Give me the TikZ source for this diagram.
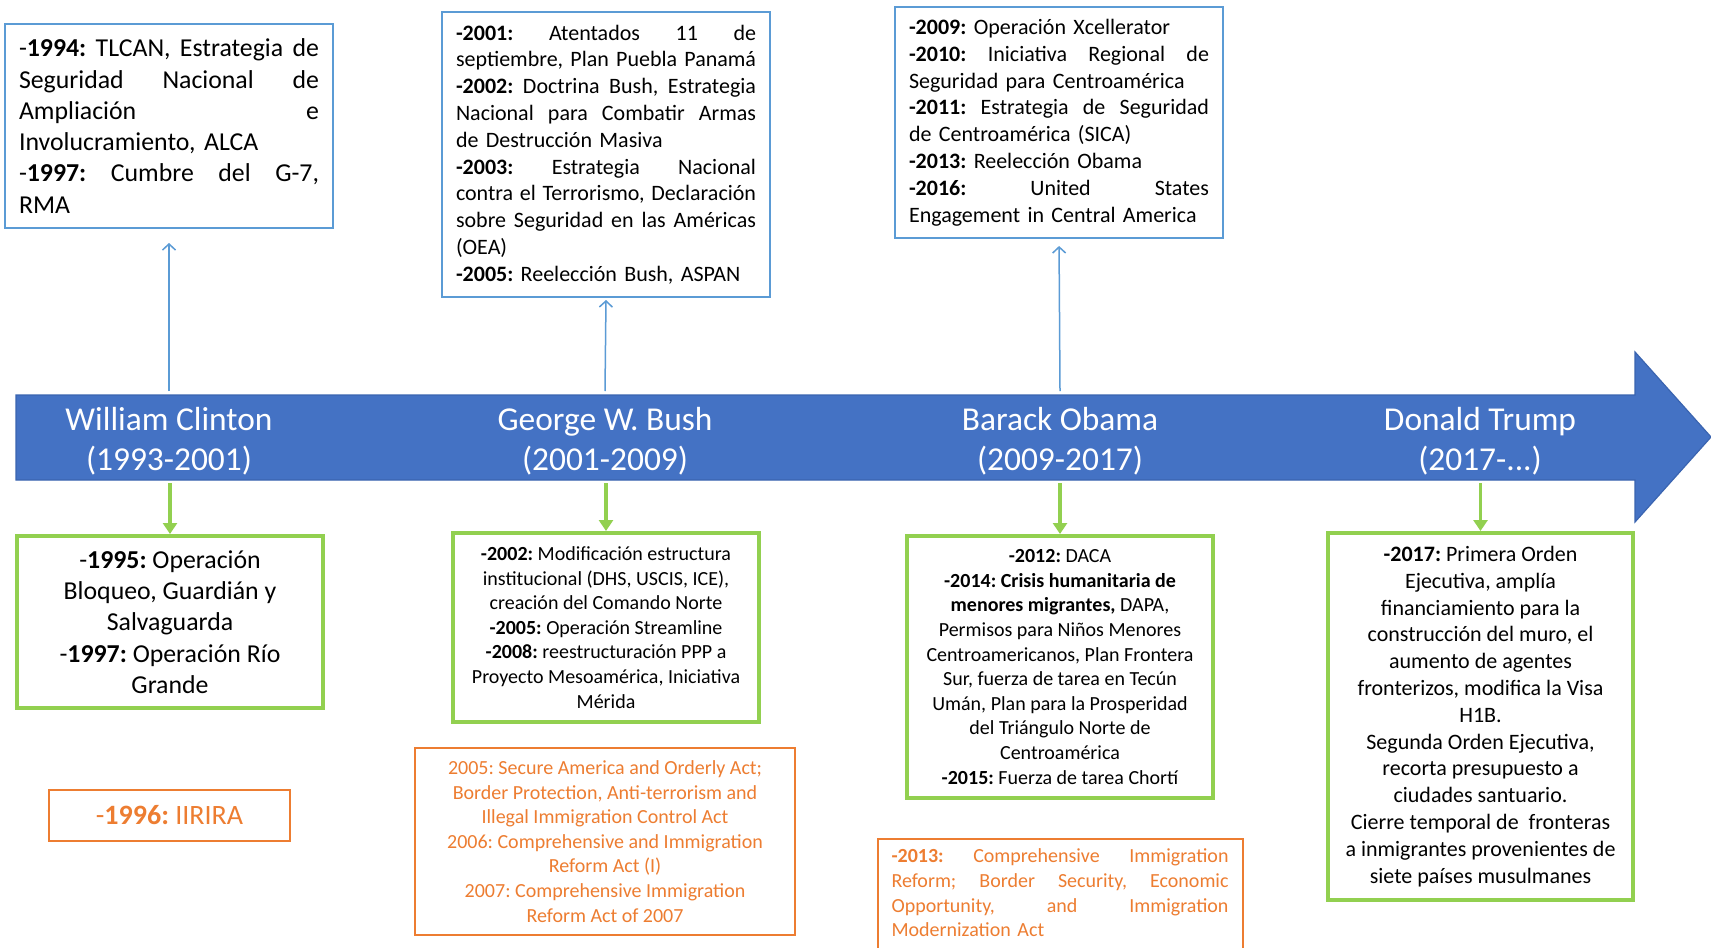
\documentclass[tikz,border=0pt]{standalone}
\usepackage{fontspec}
\setmainfont{Carlito}
\usetikzlibrary{arrows.meta}
\definecolor{bandblue}{HTML}{4472C4}
\definecolor{bandedge}{HTML}{3A64B0}
\definecolor{lblue}{HTML}{5B9BD5}
\definecolor{lgreen}{HTML}{92D050}
\definecolor{orng}{HTML}{ED7D31}
\newcommand{\jl}[2]{\makebox[#1][s]{\spaceskip=\fontdimen2\font plus 1fil\relax #2}}
\newcommand{\bigfs}{\fontsize{12.9pt}{15.65pt}\selectfont}
\newcommand{\medfs}{\fontsize{11pt}{13.4pt}\selectfont}
\newcommand{\smfs}{\fontsize{10pt}{12.3pt}\selectfont}
\hbadness=10000 \hfuzz=5pt
\frenchspacing
\begin{document}
\begin{tikzpicture}[x=0.5pt,y=-0.5pt,
  bluebox/.style={draw=lblue,line width=1pt,fill=white,inner xsep=7pt,inner ysep=3pt,align=left,text width=150pt},
  greenbox/.style={draw=lgreen,line width=2pt,fill=white,align=center,inner sep=2pt},
  orangebox/.style={draw=orng,line width=1pt,fill=white,text=orng,align=center,inner sep=2pt},
  bandlabel/.style={text=white,align=center,font=\fontsize{16.7pt}{20.2pt}\selectfont},
  bluecon/.style={draw=lblue,line width=0.75pt,-{Straight Barb[length=3pt,width=6.5pt]}},
  greencon/.style={draw=lgreen,line width=1.6pt,-{Triangle[length=5.5pt,width=7pt]}}]
\useasboundingbox (0,0) rectangle (1711,947);
\fill[white] (0,0) rectangle (1711,947);

% timeline band
\draw[fill=bandblue,draw=bandedge,line width=0.6pt]
  (16,395) -- (1635,395) -- (1635,352) -- (1711,437) -- (1635,522) -- (1635,480) -- (16,480) -- cycle;

\node[bandlabel] (clinton) at (169,441) {William Clinton\\(1993-2001)};
\node[bandlabel] (bush) at (605,441) {George W. Bush\\(2001-2009)};
\node[bandlabel] (obama) at (1060,441) {Barack Obama\\(2009-2017)};
\node[bandlabel] (trump) at (1480,441) {Donald Trump\\(2017-...)};

% upper blue boxes
\node[bluebox,minimum height=102pt,font=\bigfs] (box1) at (169,126) {%
\jl{150pt}{-\textbf{1994:} TLCAN, Estrategia de}\\
\jl{150pt}{Seguridad Nacional de}\\
\jl{150pt}{Ampliación e}\\
Involucramiento, ALCA\\
\jl{150pt}{-\textbf{1997:} Cumbre del G-7,}\\
RMA};

\node[bluebox,minimum height=142.5pt,font=\medfs] (box2) at (606,154.5) {%
\jl{150pt}{\textbf{-2001:} Atentados 11 de}\\
\jl{150pt}{septiembre, Plan Puebla Panamá}\\
\jl{150pt}{\textbf{-2002:} Doctrina Bush, Estrategia}\\
\jl{150pt}{Nacional para Combatir Armas}\\
de Destrucción Masiva\\
\jl{150pt}{\textbf{-2003:} Estrategia Nacional}\\
\jl{150pt}{contra el Terrorismo, Declaración}\\
\jl{150pt}{sobre Seguridad en las Américas}\\
(OEA)\\
\textbf{-2005:} Reelección Bush, ASPAN};

\node[bluebox,minimum height=115.5pt,font=\medfs] (box3) at (1059,122.5) {%
\textbf{-2009:} Operación Xcellerator\\
\jl{150pt}{\textbf{-2010:} Iniciativa Regional de}\\
Seguridad para Centroamérica\\
\jl{150pt}{\textbf{-2011:} Estrategia de Seguridad}\\
de Centroamérica (SICA)\\
\textbf{-2013:} Reelección Obama\\
\jl{150pt}{\textbf{-2016:} United States}\\
Engagement in Central America};

% lower green boxes
\node[greenbox,minimum width=153pt,minimum height=86pt,font=\bigfs] (g1) at (170,622) {%
-\textbf{1995:} Operación\\
Bloqueo, Guardián y\\
Salvaguarda\\
-\textbf{1997:} Operación Río\\
Grande};

\node[greenbox,minimum width=153pt,minimum height=94.5pt,font=\smfs] (g2) at (606,627.5) {%
\textbf{-2002:} Modificación estructura\\
institucional (DHS, USCIS, ICE),\\
creación del Comando Norte\\
\textbf{-2005:} Operación Streamline\\
\textbf{-2008:} reestructuración PPP a\\
Proyecto Mesoamérica, Iniciativa\\
Mérida};

\node[greenbox,minimum width=153pt,minimum height=131pt,font=\smfs] (g3) at (1060,667) {%
\textbf{-2012:} DACA\\
\textbf{-2014: Crisis humanitaria de}\\
\textbf{menores migrantes,} DAPA,\\
Permisos para Niños Menores\\
Centroamericanos, Plan Frontera\\
Sur, fuerza de tarea en Tecún\\
Umán, Plan para la Prosperidad\\
del Triángulo Norte de\\
Centroamérica\\
\textbf{-2015:} Fuerza de tarea Chortí};

\node[greenbox,minimum width=152.5pt,minimum height=183.5pt,font=\medfs] (g4) at (1480.5,716.5) {%
\textbf{-2017:} Primera Orden\\
Ejecutiva, amplía\\
financiamiento para la\\
construcción del muro, el\\
aumento de agentes\\
fronterizos, modifica la Visa\\
H1B.\\
Segunda Orden Ejecutiva,\\
recorta presupuesto a\\
ciudades santuario.\\
Cierre temporal de~ fronteras\\
a inmigrantes provenientes de\\
siete países musulmanes};

% orange boxes
\node[orangebox,minimum width=120.5pt,minimum height=25.5pt,font=\fontsize{14pt}{17pt}\selectfont] (o1) at (169.5,815.5) {-\textbf{1996:} IIRIRA};

\node[orangebox,minimum width=190pt,minimum height=93.5pt,font=\smfs] (o2) at (605,841.5) {%
2005: Secure America and Orderly Act;\\
Border Protection, Anti-terrorism and\\
Illegal Immigration Control Act\\
2006: Comprehensive and Immigration\\
Reform Act (I)\\
2007: Comprehensive Immigration\\
Reform Act of 2007};

\node[orangebox,anchor=north,align=left,text width=168.5pt,inner xsep=7pt,inner ysep=5pt,font=\smfs] (o3) at (1060,838) {%
\jl{168.5pt}{\textbf{-2013:} Comprehensive Immigration}\\
\jl{168.5pt}{Reform; Border Security, Economic}\\
\jl{168.5pt}{Opportunity, and Immigration}\\
Modernization Act\\
\rule{0pt}{24pt}};

% connectors
\coordinate (t1) at (169,391);
\coordinate (t2) at (605,391);
\coordinate (t3) at (1060,391);
\draw[bluecon,shorten >=7pt] (t1) -- (box1);
\draw[bluecon,shorten >=1pt] (t2) -- (box2.south);
\draw[bluecon,shorten >=3.5pt] (t3) -- (box3.south);

\coordinate (u1) at (170,483);
\coordinate (u2) at (606,483);
\coordinate (u3) at (1060,483);
\coordinate (u4) at (1480.5,483);
\draw[greencon] (u1) -- (g1);
\draw[greencon] (u2) -- (g2);
\draw[greencon] (u3) -- (g3);
\draw[greencon] (u4) -- (g4);
\end{tikzpicture}
\end{document}
